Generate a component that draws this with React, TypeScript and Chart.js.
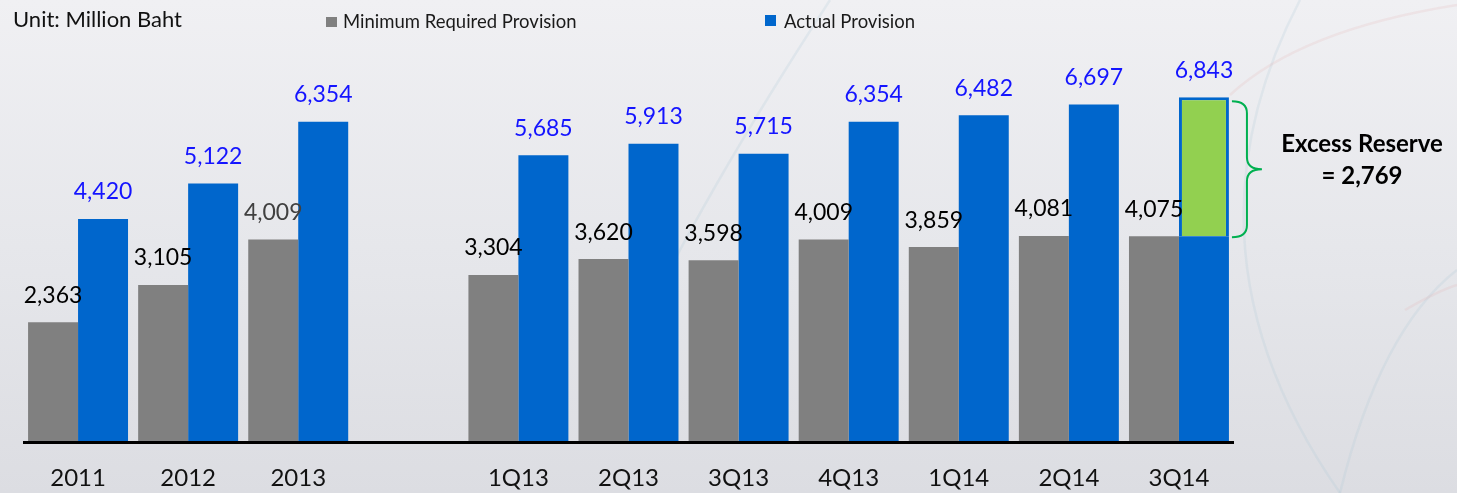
import React, { useEffect, useRef } from "react";
import { Chart, registerables } from "chart.js";

Chart.register(...registerables);

// ---------- data ----------
const categories = ["2011", "2012", "2013", "", "1Q13", "2Q13", "3Q13", "4Q13", "1Q14", "2Q14", "3Q14"];
const minimumRequired: (number | null)[] = [2363, 3105, 4009, null, 3304, 3620, 3598, 4009, 3859, 4081, 4075];
const actualProvision: (number | null)[] = [4420, 5122, 6354, null, 5685, 5913, 5715, 6354, 6482, 6697, 6843];
const excessIndex = 10;
const excessText = ["Excess Reserve", "= 2,769"];
const legendLabels = ["Minimum Required Provision", "Actual Provision"];
const unitLabel = "Unit: Million Baht";

// ---------- styles ----------
const GRAY = "#808080";
const BLUE = "#0066CC";
const GREEN = "#92D050";
const BRACE = "#00B050";
const FONT = "Lato, 'Open Sans', sans-serif";

const fmt = (v: number) => v.toLocaleString("en-US");

const backgroundPlugin = {
  id: "bg",
  beforeDraw(chart: any) {
    const { ctx, width, height } = chart;
    ctx.save();
    const g = ctx.createLinearGradient(0, 0, 0, height);
    g.addColorStop(0, "#f0f0f3");
    g.addColorStop(0.5, "#e6e7eb");
    g.addColorStop(1, "#dcdde2");
    ctx.fillStyle = g;
    ctx.fillRect(0, 0, width, height);
    // faint decorative arcs
    ctx.lineWidth = 2.5;
    ctx.strokeStyle = "rgba(175,200,215,0.22)";
    ctx.beginPath();
    ctx.moveTo(830, 0);
    ctx.quadraticCurveTo(700, 200, 640, 330);
    ctx.stroke();
    ctx.beginPath();
    ctx.moveTo(1300, 0);
    ctx.quadraticCurveTo(1170, 250, 1340, 493);
    ctx.stroke();
    ctx.beginPath();
    ctx.moveTo(1457, 270);
    ctx.quadraticCurveTo(1380, 330, 1340, 493);
    ctx.stroke();
    ctx.strokeStyle = "rgba(225,170,170,0.18)";
    ctx.beginPath();
    ctx.moveTo(1457, 5);
    ctx.quadraticCurveTo(1300, 30, 1230, 95);
    ctx.stroke();
    ctx.beginPath();
    ctx.moveTo(1457, 285);
    ctx.quadraticCurveTo(1440, 290, 1405, 310);
    ctx.stroke();
    ctx.restore();
  },
};

const annotationsPlugin = {
  id: "annot",
  afterDatasetsDraw(chart: any) {
    const { ctx, scales, chartArea } = chart;
    const y = scales.y;
    ctx.save();

    // axis baseline
    const base = y.getPixelForValue(0);
    ctx.strokeStyle = "#000";
    ctx.lineWidth = 3;
    ctx.beginPath();
    ctx.moveTo(chartArea.left, base + 1.5);
    ctx.lineTo(chartArea.right, base + 1.5);
    ctx.stroke();

    // data labels
    ctx.font = `23px ${FONT}`;
    ctx.textAlign = "center";
    ctx.textBaseline = "alphabetic";
    const m0 = chart.getDatasetMeta(0);
    const m1 = chart.getDatasetMeta(1);
    minimumRequired.forEach((v, i) => {
      if (v == null) return;
      const el = m0.data[i];
      ctx.fillStyle = i === 2 ? "#404040" : "#000000";
      ctx.fillText(fmt(v), el.x, y.getPixelForValue(v) - 19.5);
    });
    actualProvision.forEach((v, i) => {
      if (v == null) return;
      const el = m1.data[i];
      ctx.fillStyle = "#1414FF";
      ctx.fillText(fmt(v), el.x, y.getPixelForValue(v) - 19.5);
    });

    // brace for excess reserve
    const el = m1.data[excessIndex];
    const top = y.getPixelForValue(actualProvision[excessIndex] as number) + 4;
    const bot = y.getPixelForValue(minimumRequired[excessIndex] as number) + 1;
    const mid = (top + bot) / 2;
    const x0 = el.x + el.width / 2 + 3;
    const xs = x0 + 15;
    const xt = xs + 15;
    const r = 12;
    ctx.strokeStyle = BRACE;
    ctx.lineWidth = 2;
    ctx.beginPath();
    ctx.moveTo(x0, top);
    ctx.quadraticCurveTo(xs, top, xs, top + r);
    ctx.lineTo(xs, mid - r);
    ctx.quadraticCurveTo(xs, mid, xt, mid);
    ctx.quadraticCurveTo(xs, mid, xs, mid + r);
    ctx.lineTo(xs, bot - r);
    ctx.quadraticCurveTo(xs, bot, x0, bot);
    ctx.stroke();

    ctx.fillStyle = "#000";
    ctx.font = `bold 24px ${FONT}`;
    ctx.textAlign = "center";
    ctx.fillText(excessText[0], 1362, mid - 17);
    ctx.fillText(excessText[1], 1362, mid + 15);

    // unit label
    ctx.textAlign = "left";
    ctx.font = `22px ${FONT}`;
    ctx.fillStyle = "#111";
    ctx.fillText(unitLabel, 13, 27);

    // legend
    ctx.font = `18.5px ${FONT}`;
    ctx.fillStyle = GRAY;
    ctx.fillRect(326, 17, 11, 10);
    ctx.fillStyle = "#1a1a1a";
    ctx.fillText(legendLabels[0], 343, 28);
    ctx.fillStyle = BLUE;
    ctx.fillRect(765, 15, 11, 11);
    ctx.fillStyle = "#1a1a1a";
    ctx.fillText(legendLabels[1], 784, 28);

    ctx.restore();
  },
};

export default function App() {
  const ref = useRef<HTMLCanvasElement | null>(null);

  useEffect(() => {
    if (!ref.current) return;
    const blueBase = actualProvision.map((v, i) =>
      i === excessIndex && v != null ? (minimumRequired[i] as number) : v
    );
    const excess = actualProvision.map((v, i) =>
      i === excessIndex && v != null ? v - (minimumRequired[i] as number) : null
    );
    const chart = new Chart(ref.current, {
      type: "bar",
      data: {
        labels: categories,
        datasets: [
          {
            label: legendLabels[0],
            data: minimumRequired,
            backgroundColor: GRAY,
            stack: "min",
            categoryPercentage: 0.908,
            barPercentage: 1,
          },
          {
            label: legendLabels[1],
            data: blueBase,
            backgroundColor: BLUE,
            stack: "act",
            categoryPercentage: 0.908,
            barPercentage: 1,
          },
          {
            label: "Excess",
            data: excess,
            backgroundColor: GREEN,
            borderColor: BLUE,
            borderWidth: 3,
            borderSkipped: "bottom",
            stack: "act",
            categoryPercentage: 0.908,
            barPercentage: 1,
          },
        ] as any,
      },
      options: {
        responsive: false,
        animation: false,
        devicePixelRatio: 1,
        layout: { padding: { left: 23, right: 223, top: 39, bottom: 0 } },
        plugins: {
          legend: { display: false },
          tooltip: { enabled: false },
          title: { display: false },
        },
        scales: {
          x: {
            stacked: true,
            grid: { display: false, drawTicks: false },
            border: { display: false },
            ticks: {
              color: "#111",
              font: { family: FONT, size: 24 },
              padding: 23,
              maxRotation: 0,
              autoSkip: false,
            },
            afterFit: (s: any) => {
              s.height = 52;
            },
          },
          y: {
            stacked: true,
            display: false,
            min: 0,
            max: 8000,
          },
        },
      },
      plugins: [backgroundPlugin, annotationsPlugin],
    });
    return () => chart.destroy();
  }, []);

  return (
    <div style={{ position: "absolute", left: 0, top: 0, width: 1457, height: 493 }}>
      <canvas ref={ref} width={1457} height={493} style={{ display: "block" }} />
    </div>
  );
}
